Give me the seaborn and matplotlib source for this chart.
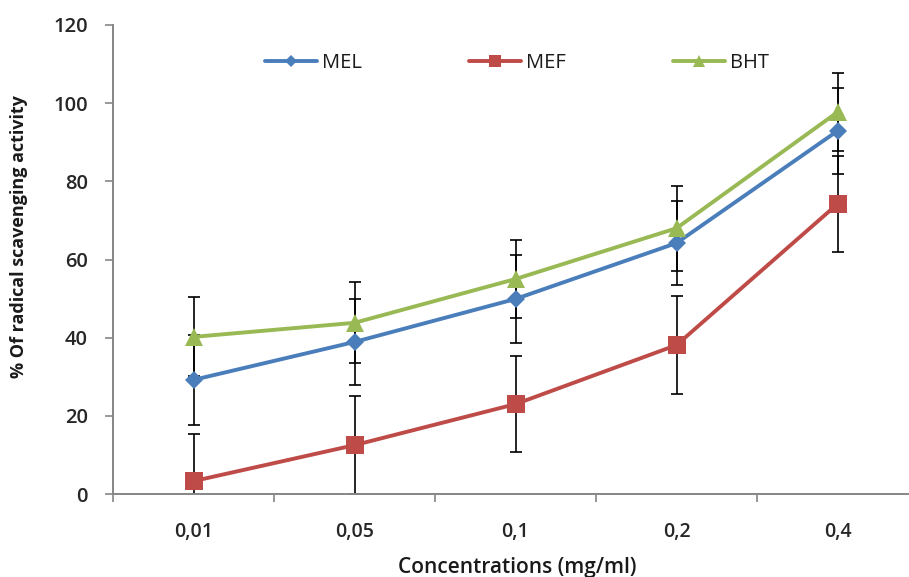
import matplotlib
matplotlib.use("Agg")
import matplotlib.pyplot as plt
import seaborn as sns
import pandas as pd

# ---- data ----
concentrations = ["0,01", "0,05", "0,1", "0,2", "0,4"]
series_names = ["MEL", "MEF", "BHT"]
mel_values = [29.2, 38.9, 49.9, 64.2, 92.9]
mef_values = [3.3, 12.5, 23.0, 38.1, 74.2]
bht_values = [40.2, 43.8, 55.0, 68.0, 97.7]
mel_err = [11.5, 11.0, 11.3, 10.8, 11.0]
mef_err = [12.0, 12.6, 12.2, 12.5, 12.4]
bht_err = [10.1, 10.4, 10.0, 10.9, 10.0]
y_ticks = [0, 20, 40, 60, 80, 100, 120]

values = {"MEL": mel_values, "MEF": mef_values, "BHT": bht_values}
errors = {"MEL": mel_err, "MEF": mef_err, "BHT": bht_err}
colors = {"MEL": "#4A7EBB", "MEF": "#BE4B48", "BHT": "#98B954"}
markers = {"MEL": "D", "MEF": "s", "BHT": "^"}
msizes = {"MEL": 9, "MEF": 13, "BHT": 13}

rows = []
for s in series_names:
    for c, v in zip(concentrations, values[s]):
        rows.append({"conc": c, "value": v, "series": s})
df = pd.DataFrame(rows)

sns.set_theme(style="white")
plt.rcParams["font.family"] = ["Open Sans", "DejaVu Sans"]

fig = plt.figure(figsize=(9.09, 5.77), dpi=100)
ax = fig.add_axes([113 / 909, 83 / 577, 805 / 909, 469 / 577])

sns.lineplot(data=df, x="conc", y="value", hue="series", style="series",
             hue_order=series_names, style_order=series_names,
             palette=colors, markers=markers, dashes=False, sort=False,
             linewidth=2.8, markeredgewidth=0, ax=ax, zorder=3)
main_lines = list(ax.lines)
for ln, s in zip(main_lines, series_names):
    ln.set_markersize(msizes[s])
    ln.set_markeredgecolor(colors[s])

for s in series_names:
    ax.errorbar(concentrations, values[s], yerr=errors[s], fmt="none",
                ecolor="black", elinewidth=1.2, capsize=4.3, capthick=1.2,
                zorder=2)

if ax.get_legend() is not None:
    ax.get_legend().remove()

leg = fig.legend(main_lines, series_names, loc="center left",
                 bbox_to_anchor=(265 / 909, 1 - 63 / 577), ncol=3,
                 frameon=False, fontsize=14.5, handlelength=2.6,
                 handletextpad=0.25, columnspacing=5.3, borderpad=0,
                 borderaxespad=0, markerscale=0.7)
for t in leg.get_texts():
    t.set_color("#1a1a1a")

ax.set_xlim(-0.5, 4.5)
ax.set_ylim(0, 120)
ax.set_yticks(y_ticks)
ax.set_yticklabels([str(t) for t in y_ticks], fontweight="semibold")

sns.despine(ax=ax)
for sp in ["left", "bottom"]:
    ax.spines[sp].set_color("#868686")
    ax.spines[sp].set_linewidth(1.4)

ax.set_xticks([i - 0.5 for i in range(6)], minor=False)
ax.set_xticks(range(len(concentrations)), minor=True)
ax.set_xticklabels([])
ax.set_xticklabels(concentrations, minor=True, fontweight="semibold")
ax.tick_params(axis="x", which="major", length=6, width=1.2, color="#868686",
               direction="out", bottom=True)
ax.tick_params(axis="x", which="minor", length=0, pad=20, labelsize=14,
               labelcolor="#262626", bottom=True)
ax.tick_params(axis="y", length=6, width=1.2, color="#868686", direction="out",
               left=True, pad=12, labelsize=14.5, labelcolor="#262626")

ax.set_xlabel("")
ax.set_ylabel("")
fig.text(19 / 909, 1 - 237 / 577, "% Of radical scavenging activity",
         rotation=90, ha="center", va="center", fontsize=13,
         fontweight="bold", color="#1a1a1a")
fig.text(517 / 909, 1 - 567 / 577, "Concentrations (mg/ml)",
         ha="center", va="center", fontsize=15, fontweight="semibold",
         color="#1a1a1a")

fig.savefig("out.png", dpi=100)
